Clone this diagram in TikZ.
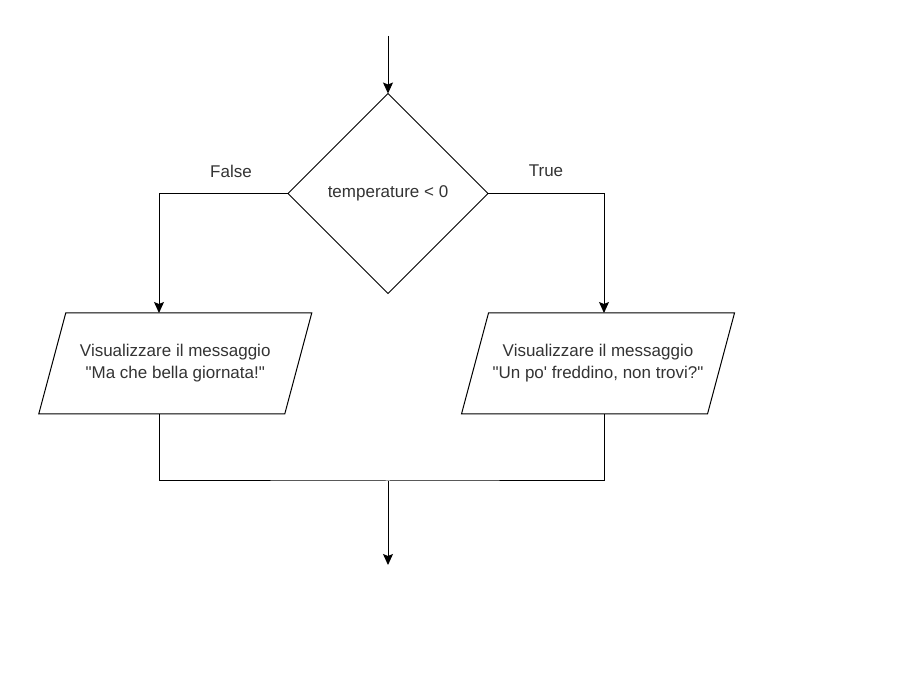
\documentclass[tikz,border=0pt]{standalone}
\usepackage{fontspec}
\setmainfont{Liberation Sans}[Ligatures=TeXOff]
\usetikzlibrary{shapes.geometric,arrows.meta}

\tikzset{
  txt/.style={text=black!80, font=\fontsize{17}{22}\selectfont},
  decision/.style={diamond, draw, line width=1pt, minimum width=200pt, minimum height=200pt,
    inner sep=0pt, outer sep=0pt, txt},
  io/.style={rectangle, minimum width=246pt, minimum height=101pt, outer sep=0pt, align=center, txt},
  lbl/.style={inner sep=0pt, txt},
  flow/.style={line width=1pt},
  arrow/.style={flow, -{Stealth[length=11pt,width=10pt,inset=2pt]}}
}

\begin{document}
\begin{tikzpicture}[x=1pt,y=-1pt]
		\useasboundingbox (0,0) rectangle (911,684);
		
		\coordinate (start) at (388,36);
		\node[decision] (cond) at (388,193.5) {temperature < 0};
		
		\node[io] (msgF) at (175.25,363.5) {Visualizzare il messaggio\\"Ma che bella giornata!"};
		\node[io] (msgT) at (598,363.5) {Visualizzare il messaggio\\"Un po' freddino, non trovi?"};
		
		% slanted outline of the output boxes
		\foreach \n in {msgF,msgT}
			\draw[flow] ([xshift=13.5pt]\n.north west) -- ([xshift=13.5pt]\n.north east)
				-- ([xshift=-13.5pt]\n.south east) -- ([xshift=-13.5pt]\n.south west) -- cycle;
		
		\node[lbl] (lblF) at (231,171) {False};
		\node[lbl] (lblT) at (546,171) {True};
		
		\coordinate (merge) at (388,481);
		\coordinate (finish) at (388,565);
		
		% branches
		\draw[arrow] (start) -- (cond.north);
		\draw[arrow] (cond.west) -| ([xshift=-16.25pt]msgF.north);
		\draw[arrow] (cond.east) -| ([xshift=6pt]msgT.north);
		
		% join the two branches
		\draw[flow] ([xshift=-16.25pt]msgF.south) |- (merge) -| ([xshift=6pt]msgT.south);
		\draw[arrow] (merge) -- (finish);
		
	\end{tikzpicture}
\end{document}
